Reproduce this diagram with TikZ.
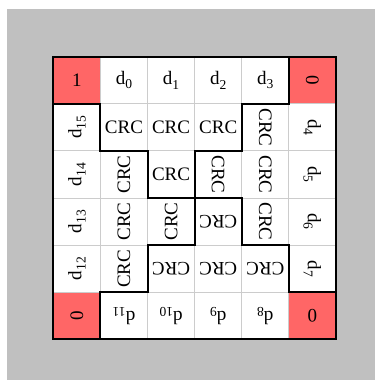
\documentclass[tikz,border=0pt]{standalone}
\usepackage{fontspec}
\setmainfont{Liberation Serif}
\usepackage{graphicx}
\usepackage{tikz}
\usetikzlibrary{positioning}

\definecolor{crcred}{HTML}{FF6666}
\definecolor{panelgray}{HTML}{C0C0C0}
\definecolor{gridgray}{HTML}{CCCCCC}

\newcommand{\dsub}[1]{d\raisebox{-2.6pt}{\fontsize{8.2}{9}\selectfont #1}}
\newcommand{\turnl}[1]{\rotatebox{90}{#1}}
\newcommand{\turnr}[1]{\rotatebox{-90}{#1}}
\newcommand{\turnd}[1]{\rotatebox{180}{#1}}

\begin{document}
\begin{tikzpicture}[cell/.style={draw=gridgray, fill=white, line width=0.6pt, minimum size=1cm, inner sep=0pt, outer sep=0pt, font=\fontsize{11.5}{13}\selectfont},
    corner/.style={cell, fill=crcred},
    seam/.style={line width=1.2pt, line cap=rect}]

    \useasboundingbox (-1.132,1.204) rectangle (6.835,-6.864);
    \fill[panelgray] (-0.983,1.013) rectangle (6.835,-6.864);

    % top row
    \node[corner] (c00) at (0.5,-0.5) {1};
    \node[cell, right=0cm of c00] (c10) {\dsub{0}};
    \node[cell, right=0cm of c10] (c20) {\dsub{1}};
    \node[cell, right=0cm of c20] (c30) {\dsub{2}};
    \node[cell, right=0cm of c30] (c40) {\dsub{3}};
    \node[corner, right=0cm of c40] (c50) {\turnr{0}};

    \node[cell, below=0cm of c00] (c01) {\turnl{\dsub{15}}};
    \node[cell, right=0cm of c01] (c11) {CRC};
    \node[cell, right=0cm of c11] (c21) {CRC};
    \node[cell, right=0cm of c21] (c31) {CRC};
    \node[cell, right=0cm of c31] (c41) {\turnr{CRC}};
    \node[cell, right=0cm of c41] (c51) {\turnr{\dsub{4}}};

    \node[cell, below=0cm of c01] (c02) {\turnl{\dsub{14}}};
    \node[cell, right=0cm of c02] (c12) {\turnl{CRC}};
    \node[cell, right=0cm of c12] (c22) {CRC};
    \node[cell, right=0cm of c22] (c32) {\turnr{CRC}};
    \node[cell, right=0cm of c32] (c42) {\turnr{CRC}};
    \node[cell, right=0cm of c42] (c52) {\turnr{\dsub{5}}};

    \node[cell, below=0cm of c02] (c03) {\turnl{\dsub{13}}};
    \node[cell, right=0cm of c03] (c13) {\turnl{CRC}};
    \node[cell, right=0cm of c13] (c23) {\turnl{CRC}};
    \node[cell, right=0cm of c23] (c33) {\turnd{CRC}};
    \node[cell, right=0cm of c33] (c43) {\turnr{CRC}};
    \node[cell, right=0cm of c43] (c53) {\turnr{\dsub{6}}};

    \node[cell, below=0cm of c03] (c04) {\turnl{\dsub{12}}};
    \node[cell, right=0cm of c04] (c14) {\turnl{CRC}};
    \node[cell, right=0cm of c14] (c24) {\turnd{CRC}};
    \node[cell, right=0cm of c24] (c34) {\turnd{CRC}};
    \node[cell, right=0cm of c34] (c44) {\turnd{CRC}};
    \node[cell, right=0cm of c44] (c54) {\turnr{\dsub{7}}};

    % bottom row
    \node[corner, below=0cm of c04] (c05) {\turnl{0}};
    \node[cell, right=0cm of c05] (c15) {\turnd{\dsub{11}}};
    \node[cell, right=0cm of c15] (c25) {\turnd{\dsub{10}}};
    \node[cell, right=0cm of c25] (c35) {\turnd{\dsub{9}}};
    \node[cell, right=0cm of c35] (c45) {\turnd{\dsub{8}}};
    \node[corner, right=0cm of c45] (c55) {\turnd{0}};

    % frame and the four stairs
    \draw[seam] (c00.north west) rectangle (c55.south east);
    \draw[seam] (c01.north west) -- (c11.north west) -- (c12.north west) -- (c22.north west) -- (c23.north west) -- (c33.north west);
    \draw[seam] (c50.north west) -- (c51.north west) -- (c41.north west) -- (c42.north west) -- (c32.north west) -- (c33.north west);
    \draw[seam] (c55.north east) -- (c55.north west) -- (c54.north west) -- (c44.north west) -- (c43.north west) -- (c33.north west);
    \draw[seam] (c15.south west) -- (c15.north west) -- (c25.north west) -- (c24.north west) -- (c34.north west) -- (c33.north west);

\end{tikzpicture}
\end{document}
